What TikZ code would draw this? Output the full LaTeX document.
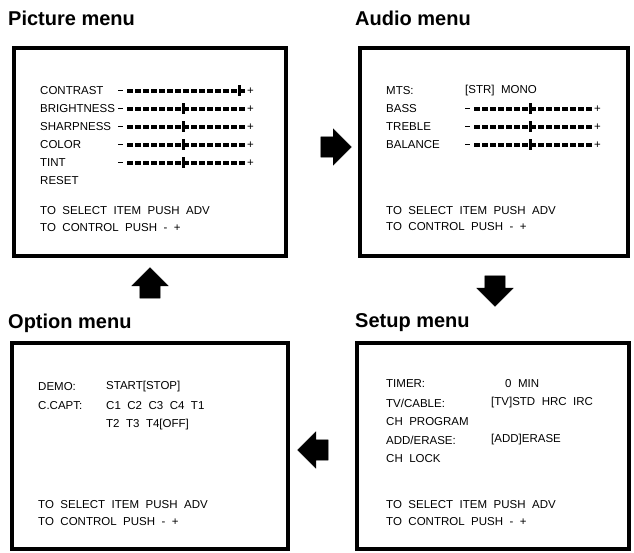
\documentclass[tikz,border=0pt]{standalone}
\usepackage{fontspec}
\setmainfont{Liberation Sans}
\usetikzlibrary{shapes.arrows}
\newcommand{\menufont}{\fontsize{11.5}{13}\selectfont\spaceskip=6.5pt\relax}
\begin{document}
\begin{tikzpicture}
    [x=1pt,y=-1pt,
    title/.style={anchor=west,inner sep=0pt,font=\bfseries\fontsize{20}{24}\selectfont},
    screen/.style={draw=black,line width=4pt,anchor=north west,inner sep=0pt},
    txt/.style={anchor=west,inner sep=0pt,font=\menufont},
    blk/.style={single arrow,fill=black,draw=black,minimum height=28pt,minimum width=36pt,
      single arrow head extend=8pt,single arrow head indent=0pt,inner sep=10pt}]

    \useasboundingbox (0,0) rectangle (634,553);

    % slider: start x, y, bar position (0..15)
    \newcommand{\slider}[3]{%
      \draw[line width=1pt] (#1,#2) -- +(5,0);
      \foreach \k in {0,...,14} {\fill ({#1+9+\k*8},{#2-2}) rectangle +(6,4);}
      \fill ({#1+7.5+#3*8},{#2-5.5}) rectangle +(3.5,11);
      \node[txt] at ({#1+129},#2) {+};}

    % titles
    \node (t1) [title] at (8,18) {Picture menu};
    \node (t2) [title] at (355,18) {Audio menu};
    \node (t3) [title] at (8,323) {Option menu};
    \node (t4) [title] at (355,323) {Setup menu};

    % screens
    \node (s1) [screen,minimum width=272pt,minimum height=208pt] at (12,46) {};
    \node (s2) [screen,minimum width=268pt,minimum height=208pt] at (358,46) {};
    \node (s3) [screen,minimum width=276pt,minimum height=206pt] at (10,341) {};
    \node (s4) [screen,minimum width=272pt,minimum height=206pt] at (355,341) {};

    % picture menu
    \node [txt] at (40,91) {CONTRAST};
    \node [txt] at (40,109) {BRIGHTNESS};
    \node [txt] at (40,127) {SHARPNESS};
    \node [txt] at (40,145) {COLOR};
    \node [txt] at (40,163) {TINT};
    \node [txt] at (40,181) {RESET};
    \slider{118}{91}{14}
    \slider{118}{109}{7}
    \slider{118}{127}{7}
    \slider{118}{145}{7}
    \slider{118}{163}{7}
    \node [txt] at (40,211) {TO SELECT ITEM PUSH ADV};
    \node [txt] at (40,228) {TO CONTROL PUSH - +};

    % audio menu
    \node [txt] at (386,91) {MTS:};
    \node [txt] at (465,91) {[STR] MONO};
    \node [txt] at (386,109) {BASS};
    \node [txt] at (386,127) {TREBLE};
    \node [txt] at (386,145) {BALANCE};
    \slider{465}{109}{7}
    \slider{465}{127}{7}
    \slider{465}{145}{7}
    \node [txt] at (386,211) {TO SELECT ITEM PUSH ADV};
    \node [txt] at (386,227) {TO CONTROL PUSH - +};

    % option menu
    \node [txt] at (38,387) {DEMO:};
    \node [txt] at (106,387) {START[STOP]};
    \node [txt] at (38,406) {C.CAPT:};
    \node [txt] at (106,406) {C1 C2 C3 C4 T1};
    \node [txt] at (106,425) {T2 T3 T4[OFF]};
    \node [txt] at (38,505) {TO SELECT ITEM PUSH ADV};
    \node [txt] at (38,522) {TO CONTROL PUSH - +};

    % setup menu
    \node [txt] at (386,384) {TIMER:};
    \node [txt] at (505,384) {0 MIN};
    \node [txt] at (386,403) {TV/CABLE:};
    \node [txt] at (491,403) {[TV]STD HRC IRC};
    \node [txt] at (386,422) {CH PROGRAM};
    \node [txt] at (386,440) {ADD/ERASE:};
    \node [txt] at (491,440) {[ADD]ERASE};
    \node [txt] at (386,459) {CH LOCK};
    \node [txt] at (386,505) {TO SELECT ITEM PUSH ADV};
    \node [txt] at (386,522) {TO CONTROL PUSH - +};

    % arrows
    \node (a1) [blk] at (331,147) {};
    \node (a2) [blk,shape border rotate=270] at (495,286) {};
    \node (a3) [blk,shape border rotate=180] at (318,450) {};
    \node (a4) [blk,shape border rotate=90] at (150,288) {};

\end{tikzpicture}
\end{document}
